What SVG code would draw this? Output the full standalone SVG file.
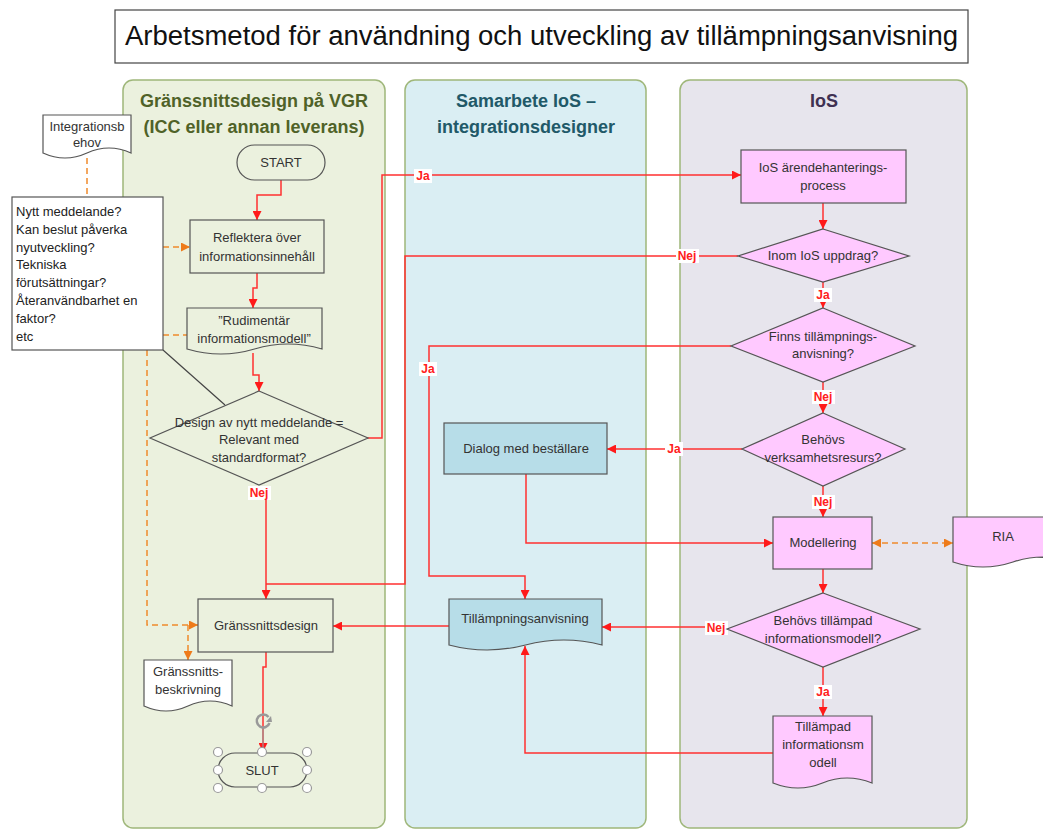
<svg xmlns="http://www.w3.org/2000/svg" width="1043" height="829" viewBox="0 0 1043 829">
  <style>
    .t { font-family: "Liberation Sans", Arial, sans-serif; font-size: 13px; fill: #333; text-anchor: middle; }
    .tl { font-family: "Liberation Sans", Arial, sans-serif; font-size: 13px; fill: #222; }
    .hd { font-family: "Liberation Sans", Arial, sans-serif; font-size: 18px; font-weight: bold; text-anchor: middle; }
    .lbl { font-family: "Liberation Sans", Arial, sans-serif; font-size: 12px; font-weight: bold; fill: #ff2020; text-anchor: middle; }
    .lblbg { fill: #ffffff; }
    .lane { stroke: #9fb77a; stroke-width: 1.5; }
    .g { fill: #ebf1de; stroke: #555; stroke-width: 1.2; }
    .b { fill: #b7dde8; stroke: #555; stroke-width: 1.2; }
    .p { fill: #ffc9ff; stroke: #555; stroke-width: 1.2; }
    .w { fill: #ffffff; stroke: #555; stroke-width: 1.2; }
    .flow { fill: none; stroke: #ff3030; stroke-width: 1.5; }
    .dash { fill: none; stroke: #f08a2c; stroke-width: 1.5; stroke-dasharray: 6 4; }
    .handle { fill: #ffffff; stroke: #9a9a9a; stroke-width: 1.2; }
  </style>
  <defs>
    <marker id="arR" viewBox="0 0 10 10" refX="10" refY="5" markerWidth="9" markerHeight="9" markerUnits="userSpaceOnUse" orient="auto">
      <path d="M0,0 L10,5 L0,10 z" fill="#ff1a1a"/>
    </marker>
    <marker id="arO" viewBox="0 0 10 10" refX="10" refY="5" markerWidth="9" markerHeight="9" markerUnits="userSpaceOnUse" orient="auto-start-reverse">
      <path d="M0,0 L10,5 L0,10 z" fill="#ee7b1a"/>
    </marker>
  </defs>

  <rect width="1043" height="829" fill="#ffffff"/>

  <!-- Title -->
  <g id="title">
    <rect x="115" y="10" width="853" height="53" fill="#ffffff" stroke="#444" stroke-width="1.2"/>
    <text x="125" y="45" font-family="Liberation Sans, Arial, sans-serif" font-size="27" fill="#111" textLength="833" lengthAdjust="spacingAndGlyphs">Arbetsmetod för användning och utveckling av tillämpningsanvisning</text>
  </g>

  <!-- Swimlanes -->
  <g id="lane-vgr">
    <rect class="lane" x="123" y="80" width="262" height="748" rx="10" fill="#ebf1de"/>
    <text class="hd" x="254" y="107" fill="#4f6228">Gränssnittsdesign på VGR</text>
    <text class="hd" x="254" y="133" fill="#4f6228">(ICC eller annan leverans)</text>
  </g>
  <g id="lane-samarbete">
    <rect class="lane" x="405" y="80" width="241" height="748" rx="10" fill="#daeef3"/>
    <text class="hd" x="526" y="107" fill="#215968">Samarbete IoS –</text>
    <text class="hd" x="526" y="133" fill="#215968">integrationsdesigner</text>
  </g>
  <g id="lane-ios">
    <rect class="lane" x="680" y="80" width="287" height="748" rx="10" fill="#e7e5ed"/>
    <text class="hd" x="824" y="107" fill="#403152">IoS</text>
  </g>

  <!-- Connectors -->
  <g id="connectors">
    <!-- dashed information flows -->
    <path class="dash" d="M87,158 V197"/>
    <path class="dash" d="M163,247 H190" marker-end="url(#arO)"/>
    <path class="dash" d="M163,335 H187"/>
    <path class="dash" d="M147,350 V625 H198" marker-end="url(#arO)"/>
    <path class="dash" d="M188,625 V660" marker-end="url(#arO)"/>
    <path class="dash" d="M872,543 H953" marker-start="url(#arO)" marker-end="url(#arO)"/>

    <!-- callout tail -->
    <path d="M163,350 L225,405" fill="none" stroke="#444" stroke-width="1.2"/>

    <!-- process flow -->
    <path class="flow" d="M281,180 V195 H257 V220" marker-end="url(#arR)"/>
    <path class="flow" d="M257,273 V288 H253 V308" marker-end="url(#arR)"/>
    <path class="flow" d="M253,353 V375 H259 V391" marker-end="url(#arR)"/>
    <path class="flow" d="M367,438 H382 V175 H741" marker-end="url(#arR)"/>
    <path class="flow" d="M266,486 V599" marker-end="url(#arR)"/>
    <path class="flow" d="M823,203 V229" marker-end="url(#arR)"/>
    <path class="flow" d="M738,256 H405 V584 H266"/>
    <path class="flow" d="M823,282 V308" marker-end="url(#arR)"/>
    <path class="flow" d="M731,346 H429 V576 H525 V599" marker-end="url(#arR)"/>
    <path class="flow" d="M823,382 V413" marker-end="url(#arR)"/>
    <path class="flow" d="M742,449 H607" marker-end="url(#arR)"/>
    <path class="flow" d="M823,486 V517" marker-end="url(#arR)"/>
    <path class="flow" d="M526,474 V543 H773" marker-end="url(#arR)"/>
    <path class="flow" d="M823,569 V593" marker-end="url(#arR)"/>
    <path class="flow" d="M727,627 H602" marker-end="url(#arR)"/>
    <path class="flow" d="M823,667 V716" marker-end="url(#arR)"/>
    <path class="flow" d="M773,753 H525 V646" marker-end="url(#arR)"/>
    <path class="flow" d="M449,626 H333" marker-end="url(#arR)"/>
    <path class="flow" d="M266,652 V667 H263 V752" marker-end="url(#arR)"/>

    <!-- branch labels -->
    <rect class="lblbg" x="414" y="169" width="18" height="14"/><text class="lbl" x="423" y="180">Ja</text>
    <rect class="lblbg" x="676" y="249" width="23" height="14"/><text class="lbl" x="687" y="260">Nej</text>
    <rect class="lblbg" x="814" y="288" width="18" height="14"/><text class="lbl" x="823" y="299">Ja</text>
    <rect class="lblbg" x="419" y="362" width="18" height="14"/><text class="lbl" x="428" y="373">Ja</text>
    <rect class="lblbg" x="812" y="390" width="23" height="14"/><text class="lbl" x="823" y="401">Nej</text>
    <rect class="lblbg" x="665" y="442" width="18" height="14"/><text class="lbl" x="674" y="453">Ja</text>
    <rect class="lblbg" x="812" y="495" width="23" height="14"/><text class="lbl" x="823" y="506">Nej</text>
    <rect class="lblbg" x="248" y="486" width="23" height="14"/><text class="lbl" x="259" y="497">Nej</text>
    <rect class="lblbg" x="705" y="621" width="23" height="14"/><text class="lbl" x="716" y="632">Nej</text>
    <rect class="lblbg" x="814" y="685" width="18" height="14"/><text class="lbl" x="823" y="696">Ja</text>
  </g>

  <!-- Nodes: Gränssnittsdesign på VGR -->
  <g id="integrationsbehov">
    <path class="w" d="M43,115 H131 V153 Q109,143 87,153 Q65,163 43,153 Z"/>
    <text class="t" x="87" y="131">Integrationsb</text>
    <text class="t" x="87" y="147">ehov</text>
  </g>
  <g id="fragor">
    <rect class="w" x="12" y="197" width="151" height="153"/>
    <text class="tl" x="16" y="216">Nytt meddelande?</text>
    <text class="tl" x="16" y="234">Kan beslut påverka</text>
    <text class="tl" x="16" y="252">nyutveckling?</text>
    <text class="tl" x="16" y="269">Tekniska</text>
    <text class="tl" x="16" y="287">förutsättningar?</text>
    <text class="tl" x="16" y="305">Återanvändbarhet en</text>
    <text class="tl" x="16" y="323">faktor?</text>
    <text class="tl" x="16" y="341">etc</text>
  </g>
  <g id="start">
    <rect class="g" x="237" y="145" width="88" height="35" rx="17.5"/>
    <text class="t" x="281" y="167">START</text>
  </g>
  <g id="reflektera">
    <rect class="g" x="190" y="220" width="134" height="53"/>
    <text class="t" x="257" y="242">Reflektera över</text>
    <text class="t" x="257" y="261">informationsinnehåll</text>
  </g>
  <g id="rudimentar">
    <path class="g" d="M187,308 H322 V349 Q288,339 254.5,349 Q221,359 187,349 Z"/>
    <text class="t" x="254" y="325">”Rudimentär</text>
    <text class="t" x="254" y="343">informationsmodell”</text>
  </g>
  <g id="design-beslut">
    <polygon class="g" points="259,391 368,438 259,485 150,438"/>
    <text class="t" x="259" y="427">Design av nytt meddelande =</text>
    <text class="t" x="259" y="444">Relevant med</text>
    <text class="t" x="259" y="462">standardformat?</text>
  </g>
  <g id="granssnittsdesign">
    <rect class="g" x="198" y="599" width="135" height="53"/>
    <text class="t" x="266" y="630">Gränssnittsdesign</text>
  </g>
  <g id="granssnittsbeskrivning">
    <path class="w" d="M144,660 H232 V706 Q210,696 188,706 Q166,716 144,706 Z"/>
    <text class="t" x="188" y="676">Gränssnitts-</text>
    <text class="t" x="188" y="694">beskrivning</text>
  </g>
  <g id="slut">
    <rect class="g" x="218" y="753" width="89" height="34" rx="17" stroke="#777"/>
    <text class="t" x="262" y="775">SLUT</text>
    <line x1="263" y1="728" x2="263" y2="747" stroke="#999" stroke-width="1.2"/>
    <path d="M268.5,717 A6.5,6.5 0 1 0 269.5,723" fill="none" stroke="#999" stroke-width="2.5"/>
    <path d="M266,722 L272,722 L271,716 z" fill="#999"/>
    <circle class="handle" cx="218" cy="752" r="4.5"/>
    <circle class="handle" cx="262" cy="752" r="4.5"/>
    <circle class="handle" cx="307" cy="752" r="4.5"/>
    <circle class="handle" cx="218" cy="770" r="4.5"/>
    <circle class="handle" cx="307" cy="770" r="4.5"/>
    <circle class="handle" cx="218" cy="788" r="4.5"/>
    <circle class="handle" cx="262" cy="788" r="4.5"/>
    <circle class="handle" cx="307" cy="788" r="4.5"/>
  </g>

  <!-- Nodes: Samarbete IoS – integrationsdesigner -->
  <g id="dialog">
    <rect class="b" x="444" y="423" width="163" height="51"/>
    <text class="t" x="526" y="453">Dialog med beställare</text>
  </g>
  <g id="tillampningsanvisning">
    <path class="b" d="M449,599 H602 V645 Q564,635 525.5,645 Q487,655 449,645 Z"/>
    <text class="t" x="525" y="623">Tillämpningsanvisning</text>
  </g>

  <!-- Nodes: IoS -->
  <g id="arendehantering">
    <rect class="p" x="741" y="150" width="165" height="53"/>
    <text class="t" x="823" y="172">IoS ärendehanterings-</text>
    <text class="t" x="823" y="190">process</text>
  </g>
  <g id="inom-uppdrag">
    <polygon class="p" points="823,229 909,256 823,282 738,256"/>
    <text class="t" x="823" y="260">Inom IoS uppdrag?</text>
  </g>
  <g id="finns-anvisning">
    <polygon class="p" points="823,308 915,346 823,382 731,346"/>
    <text class="t" x="823" y="341">Finns tillämpnings-</text>
    <text class="t" x="823" y="358">anvisning?</text>
  </g>
  <g id="verksamhetsresurs">
    <polygon class="p" points="823,413 905,449 823,486 742,449"/>
    <text class="t" x="823" y="444">Behövs</text>
    <text class="t" x="823" y="462">verksamhetsresurs?</text>
  </g>
  <g id="modellering">
    <rect class="p" x="773" y="517" width="99" height="52"/>
    <text class="t" x="823" y="547">Modellering</text>
  </g>
  <g id="ria">
    <path class="p" d="M953,517 H1073 V562 Q1043,552 1013,562 Q983,572 953,562 Z"/>
    <text class="t" x="1003" y="541">RIA</text>
  </g>
  <g id="behovs-tillampad">
    <polygon class="p" points="823,593 920,629 823,667 727,629"/>
    <text class="t" x="823" y="625">Behövs tillämpad</text>
    <text class="t" x="823" y="643">informationsmodell?</text>
  </g>
  <g id="tillampad-modell">
    <path class="p" d="M773,716 H872 V783 Q847,773 822.5,783 Q798,793 773,783 Z"/>
    <text class="t" x="823" y="731">Tillämpad</text>
    <text class="t" x="823" y="749">informationsm</text>
    <text class="t" x="823" y="767">odell</text>
  </g>
</svg>
